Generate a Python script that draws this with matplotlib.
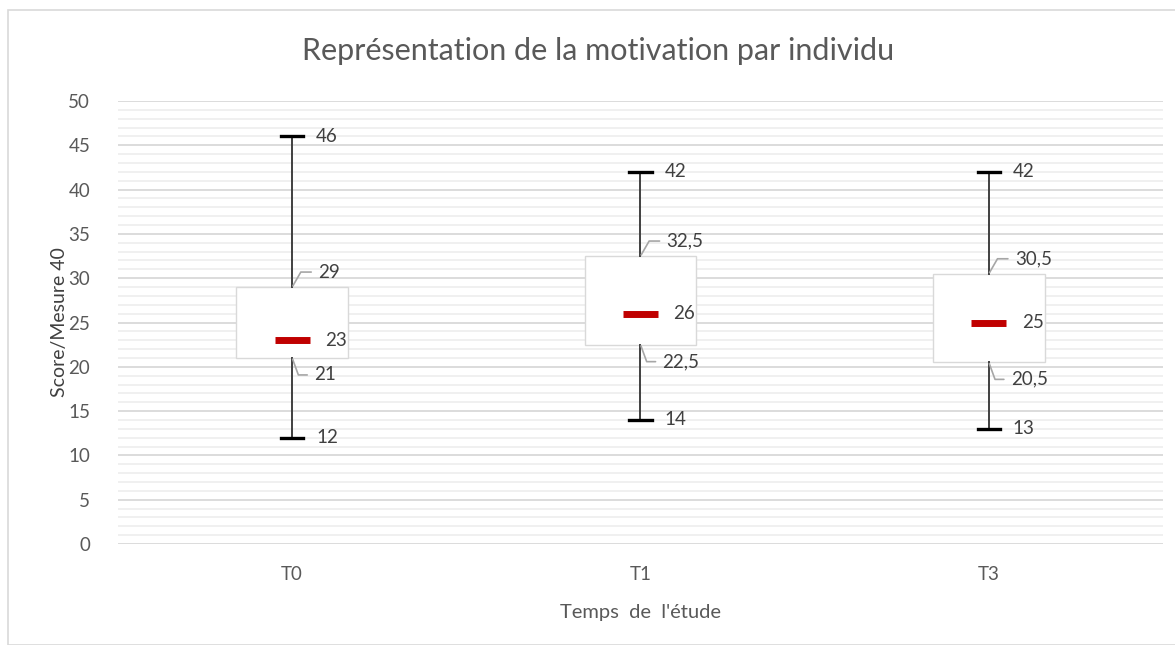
import matplotlib.pyplot as plt
from matplotlib.patches import Rectangle
from matplotlib.ticker import MultipleLocator

plt.rcParams['font.family'] = ['Lato', 'DejaVu Sans']

# data
groups = ["T0", "T1", "T3"]
mins = [12, 14, 13]
q1 = [21, 22.5, 20.5]
medians = [23, 26, 25]
q3 = [29, 32.5, 30.5]
maxs = [46, 42, 42]

def fr(v):
    s = ("%g" % v)
    return s.replace(".", ",")

txt = "#595959"
fig = plt.figure(figsize=(11.75, 6.45), dpi=100)
fig.patches.append(Rectangle((8/1175, 0), 1.0, 1 - 10/645, transform=fig.transFigure,
                             fill=False, edgecolor="#d9d9d9", lw=1.2))
ax = fig.add_axes([118/1175, 101/645, 1045/1175, 443/645])

pos = list(range(len(groups)))
stats = []
for i in pos:
    stats.append(dict(whislo=mins[i], q1=q1[i], med=medians[i], q3=q3[i], whishi=maxs[i], fliers=[]))

ax.bxp(stats, positions=pos, widths=0.32, patch_artist=True, showfliers=False,
       boxprops=dict(facecolor="white", edgecolor="#d9d9d9", lw=1),
       whiskerprops=dict(color="#404040", lw=1.4),
       capprops=dict(color="black", lw=2.4), capwidths=0.065,
       medianprops=dict(visible=False), zorder=3)
ax.hlines(medians, [p - 0.05 for p in pos], [p + 0.05 for p in pos],
          color="#c00000", lw=5, zorder=4)

ax.set_xlim(-0.5, 2.5)
ax.set_ylim(0, 50)
ax.yaxis.set_major_locator(MultipleLocator(5))
ax.yaxis.set_minor_locator(MultipleLocator(1))
ax.grid(axis="y", which="major", color="#d9d9d9", lw=1.3, zorder=0)
ax.grid(axis="y", which="minor", color="#eeeeee", lw=1.2, zorder=0)
ax.set_axisbelow(True)
for s in ax.spines.values():
    s.set_visible(False)
ax.tick_params(axis="both", which="both", length=0, labelsize=13.5, labelcolor=txt)
ax.tick_params(axis="y", pad=20)
ax.tick_params(axis="x", pad=16)
ax.set_xticks(pos, groups)

fig.text(598/1175, 1 - 51/645, "Représentation de la motivation par individu", fontsize=22,
         color=txt, ha="center", va="center")
ax.set_xlabel("Temps  de  l'étude", fontsize=14.5, color=txt, labelpad=15)
ax.set_ylabel("Score/Mesure 40", fontsize=14, color="#404040", labelpad=0)

# value labels
for i in pos:
    ax.annotate(fr(maxs[i]), (i, maxs[i]), xytext=(24, 0), textcoords="offset pixels",
                ha="left", va="center", fontsize=13.5, color="#404040")
    ax.annotate(fr(mins[i]), (i, mins[i]), xytext=(24, 0), textcoords="offset pixels",
                ha="left", va="center", fontsize=13.5, color="#404040")
    ax.annotate(fr(medians[i]), (i, medians[i]), xytext=(33, 0), textcoords="offset pixels",
                ha="left", va="center", fontsize=13.5, color="#404040", zorder=5)
    ax.annotate(fr(q3[i]), (i, q3[i]), xytext=(26, 15), textcoords="offset pixels",
                ha="left", va="center", fontsize=13.5, color="#404040",
                arrowprops=dict(arrowstyle="-", color="#a6a6a6", lw=1.2, shrinkA=3, shrinkB=1,
                                connectionstyle="angle,angleA=0,angleB=60,rad=0"))
    ax.annotate(fr(q1[i]), (i, q1[i]), xytext=(22, -17), textcoords="offset pixels",
                ha="left", va="center", fontsize=13.5, color="#404040",
                arrowprops=dict(arrowstyle="-", color="#a6a6a6", lw=1.2, shrinkA=3, shrinkB=1,
                                connectionstyle="angle,angleA=0,angleB=-70,rad=0"))

fig.savefig("out.png", dpi=100)
